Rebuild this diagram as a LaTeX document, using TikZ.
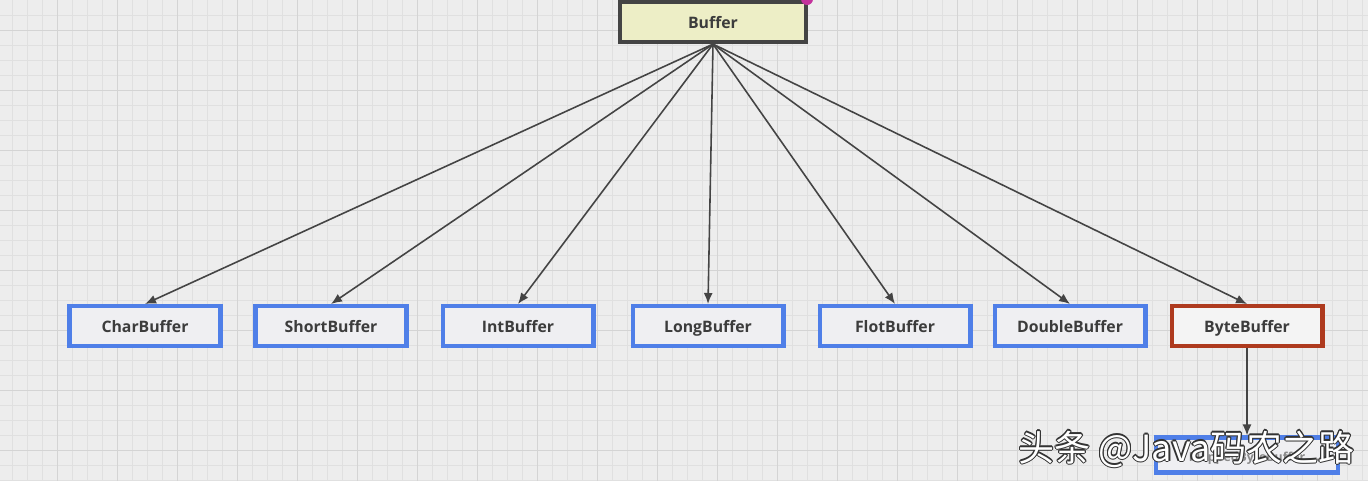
\documentclass[tikz,border=0pt]{standalone}
\usepackage{fontspec}
\setmainfont{Open Sans}
\newfontfamily\cjk{Noto Sans CJK SC}
\usetikzlibrary{arrows.meta}
\definecolor{bggray}{HTML}{EDEDED}
\definecolor{gridminor}{HTML}{E0E0E0}
\definecolor{gridmajor}{HTML}{D4D4D4}
\definecolor{linegray}{HTML}{444444}
\definecolor{txtgray}{HTML}{3C3C3C}
\definecolor{boxblue}{HTML}{4F7FE8}
\definecolor{boxred}{HTML}{AE3A1E}
\definecolor{rootfill}{HTML}{EDEEC6}
\definecolor{boxfill}{HTML}{EFEFF2}
\definecolor{dotpink}{HTML}{C4329C}

\begin{document}
\begin{tikzpicture}[x=0.02cm,y=-0.02cm,>={Latex[length=2.2mm,width=1.8mm]},
    every node/.style={font=\bfseries\fontsize{9}{11}\selectfont,text=txtgray,inner sep=0pt},
    root/.style={draw=linegray,fill=rootfill,line width=2.4pt,minimum width=3.72cm,minimum height=0.8cm,text height=1.6ex,text depth=.3ex},
    sub/.style={draw=boxblue,fill=boxfill,line width=2.3pt,minimum width=3.02cm,minimum height=0.8cm,text height=1.6ex,text depth=.3ex},
    edge/.style={->,draw=linegray,line width=0.9pt}]
  % background grid
  \fill[bggray] (0,0) rectangle (1368,481);
  \useasboundingbox (0,0) rectangle (1368,481);
  \foreach \i in {0,...,90} \draw[gridminor,line width=0.4pt] ({12+15*\i},0) -- ({12+15*\i},481);
  \foreach \j in {1,...,32} \draw[gridminor,line width=0.4pt] (0,{15*\j}) -- (1368,{15*\j});
  \foreach \i in {0,...,22} \draw[gridmajor,line width=0.5pt] ({57+60*\i},0) -- ({57+60*\i},481);
  \foreach \j in {0,...,7} \draw[gridmajor,line width=0.5pt] (0,{30+60*\j}) -- (1368,{30+60*\j});

  \node[root] (buf) at (713,22) {Buffer};
  \fill[dotpink] (807,-1) circle (6);

  \node[sub] (chr) at (145,326) {CharBuffer};
  \node[sub] (sht) at (331,326) {ShortBuffer};
  \node[sub] (int) at (518,326) {IntBuffer};
  \node[sub] (lng) at (708,326) {LongBuffer};
  \node[sub] (flt) at (895,326) {FlotBuffer};
  \node[sub] (dbl) at (1070,326) {DoubleBuffer};
  \node[sub,draw=boxred,fill=bggray!60!white] (byt) at (1247,326) {ByteBuffer};
  \node[sub,minimum width=3.64cm,minimum height=0.7cm,font=\bfseries\fontsize{7}{8}\selectfont,text=txtgray!60] (map) at (1247,455) {MappedByteBuffer};

  \foreach \c in {chr,sht,int,lng,flt,dbl,byt}
    \draw[edge] (buf.south) -- (\c.north);
  \draw[edge] (byt.south) -- (map.north);

  % watermark
  \foreach \a in {0,45,...,315}
    \node[font=\cjk\fontsize{20.5}{24}\selectfont,text=black!80,anchor=west] at ([shift={(\a:1.2)}]1018,449) {头条 @Java码农之路};
  \node[font=\cjk\fontsize{20.5}{24}\selectfont,text=white,anchor=west] (wm) at (1018,449) {头条 @Java码农之路};
\end{tikzpicture}
\end{document}
